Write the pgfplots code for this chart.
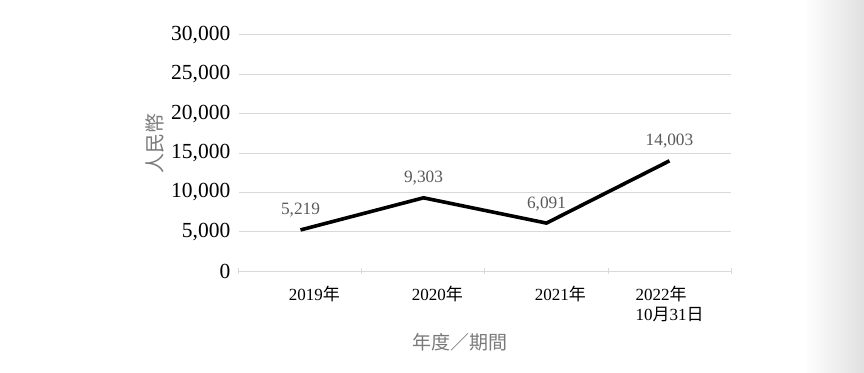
\documentclass[border=0pt]{standalone}
\usepackage{fontspec}
\setmainfont{Liberation Serif}
\newfontfamily\cjk{Noto Sans CJK TC}
\usepackage{pgfplots}
\pgfplotsset{compat=1.18}
\definecolor{gridgray}{HTML}{D9D9D9}
\definecolor{lblgray}{HTML}{595959}
\definecolor{ttlgray}{HTML}{7A7A7A}
\begin{document}
\begin{tikzpicture}
\useasboundingbox (-239bp,-102bp) rectangle (625bp,271bp);
\shade[left color=white, right color=black!12] (565bp,-102bp) rectangle (625bp,271bp);
\begin{axis}[
  at={(0,0)}, anchor=south west,
  scale only axis, width=492bp, height=236bp,
  xmin=-0.5, xmax=3.5, ymin=0, ymax=30000,
  xtick={0,1,2,3},
  xticklabels={{\hspace*{28bp}2019{\cjk 年}},{\hspace*{28bp}2020{\cjk 年}},{\hspace*{28bp}2021{\cjk 年}},{2022{\cjk 年}\\10{\cjk 月}31{\cjk 日}}},
  major x tick style={draw=none},
  minor xtick={-0.5,0.5,1.5,2.5,3.5},
  minor x tick style={gridgray, line width=1bp},
  minor tick length=6bp,
  tick align=outside,
  xticklabel style={font=\fontsize{17bp}{20bp}\selectfont, align=left, yshift=-10bp, anchor=north},
  ytick={0,5000,10000,15000,20000,25000,30000},
  scaled y ticks=false,
  yticklabel style={font=\fontsize{21.5bp}{26bp}\selectfont, /pgf/number format/1000 sep={,}, /pgf/number format/assume math mode=true, xshift=-3bp},
  major y tick style={draw=none},
  ymajorgrids, grid style={gridgray, line width=1bp},
  axis y line=left, y axis line style={draw=none},
  axis x line=bottom, x axis line style={gridgray, line width=1bp, -},
  xlabel={\cjk 年度／期間},
  xlabel style={at={(axis description cs:0.449,-0.30)}, anchor=center, font=\fontsize{19bp}{22bp}\selectfont, text=ttlgray},
  ylabel={\cjk 人民幣},
  ylabel style={at={(axis description cs:-0.171,0.54)}, anchor=center, font=\fontsize{20bp}{22bp}\selectfont, text=ttlgray},
  nodes near coords,
  point meta=explicit symbolic,
  every node near coord/.style={anchor=base, yshift=15bp, font=\fontsize{17.3bp}{20bp}\selectfont, text=lblgray},
  clip=false,
]
\addplot[black, line width=3.6bp, mark=none] coordinates {
  (0,5219) [5,219]
  (1,9303) [9,303]
  (2,6091) [6,091]
  (3,14003) [14,003]
};
\end{axis}
\end{tikzpicture}
\end{document}
